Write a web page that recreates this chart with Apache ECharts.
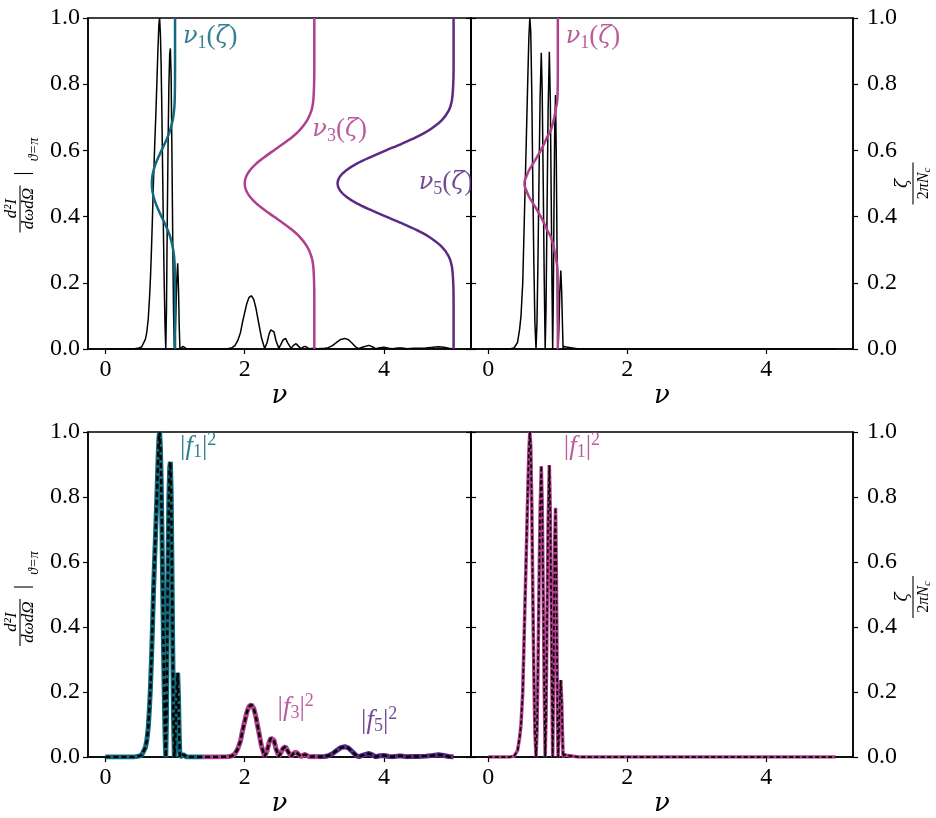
<!DOCTYPE html>
<html>
<head>
<meta charset="utf-8">
<script src="https://cdn.jsdelivr.net/npm/echarts@6/dist/echarts.min.js"></script>
<style>
  html, body { margin: 0; padding: 0; background: #fff; }
  #chart { width: 936px; height: 818px; }
</style>
</head>
<body>
<div id="chart"></div>
<script>
// ---------------- data ----------------
const nuTicks = [0, 2, 4];
const yTicks = [0, 0.2, 0.4, 0.6, 0.8, 1.0];

// broad-band spectrum, first-harmonic lobe group (left panels)
const h1Nu = [0, 0.40, 0.48, 0.52, 0.548, 0.575, 0.595, 0.615, 0.633, 0.648, 0.662, 0.676, 0.69, 0.707, 0.724, 0.74, 0.755, 0.768, 0.778, 0.79, 0.80, 0.812, 0.824, 0.835, 0.845, 0.856, 0.867,
  0.877, 0.889, 0.90, 0.912, 0.923, 0.933, 0.944, 0.955, 0.966, 0.978, 0.99,
  1.0, 1.012, 1.025, 1.038, 1.05, 1.06, 1.07, 1.09, 1.115, 1.14, 1.17, 1.4];
const h1I = [0, 0, 0.003, 0.006, 0.012, 0.03, 0.052, 0.09, 0.153, 0.22, 0.304, 0.40, 0.505, 0.61, 0.707, 0.81, 0.91, 0.98, 1.0, 0.95, 0.86, 0.70, 0.50, 0.33, 0.19, 0.07, 0.0,
  0.12, 0.40, 0.62, 0.80, 0.89, 0.908, 0.82, 0.60, 0.35, 0.12, 0.0,
  0.03, 0.11, 0.21, 0.259, 0.18, 0.07, 0.0, 0.004, 0.008, 0.004, 0.0, 0.0];

// third-harmonic lobe group
const h3Nu = [1.4, 1.75, 1.81, 1.86, 1.9, 1.94, 1.97, 2.0, 2.03, 2.06, 2.095, 2.13, 2.16, 2.2, 2.24, 2.286,
  2.32, 2.35, 2.375, 2.395, 2.42, 2.45, 2.49, 2.52, 2.55, 2.586, 2.62, 2.667, 2.70, 2.738, 2.775, 2.81,
  2.84, 2.87, 2.90, 2.93, 3.0, 3.05];
const h3I = [0, 0.001, 0.003, 0.01, 0.025, 0.05, 0.082, 0.11, 0.137, 0.155, 0.161, 0.15, 0.125, 0.08, 0.035, 0.002,
  0.018, 0.045, 0.058, 0.062, 0.052, 0.025, 0.002, 0.014, 0.027, 0.032, 0.018, 0.002, 0.011, 0.016, 0.008, 0.001,
  0.006, 0.008, 0.004, 0.001, 0.002, 0.001];

// fifth-harmonic lobe group
const h5Nu = [3.05, 3.15, 3.2, 3.26, 3.32, 3.38, 3.438, 3.49, 3.54, 3.59, 3.633, 3.7, 3.786, 3.84, 3.88, 3.94, 4.0,
  4.07, 4.12, 4.2, 4.26, 4.33, 4.42, 4.5, 4.6, 4.7, 4.786, 4.86, 4.93, 5.0];
const h5I = [0.001, 0.002, 0.004, 0.01, 0.02, 0.029, 0.032, 0.028, 0.018, 0.007, 0.001, 0.006, 0.011, 0.006, 0.001, 0.004, 0.005,
  0.002, 0.001, 0.003, 0.003, 0.001, 0.002, 0.002, 0.003, 0.005, 0.007, 0.005, 0.002, 0.0];

// narrow-band spectrum (right panels)
const nbNu = [0, 0.30, 0.37, 0.42, 0.45, 0.47, 0.495, 0.52, 0.545, 0.567, 0.583, 0.597, 0.61, 0.625, 0.64, 0.655, 0.67, 0.686,
  0.70, 0.715, 0.73, 0.745, 0.762, 0.775, 0.79, 0.805, 0.818,
  0.83, 0.845, 0.86, 0.878, 0.892, 0.905, 0.916, 0.926,
  0.935, 0.945, 0.955, 0.967, 0.977, 0.988, 0.996, 1.004,
  1.015, 1.028, 1.043, 1.056, 1.066, 1.076, 1.09, 1.105, 1.12, 1.135, 1.3, 5.0];
const nbI = [0, 0, 0.003, 0.02, 0.06, 0.10, 0.20, 0.41, 0.62, 0.81, 0.94, 1.0, 0.96, 0.78, 0.50, 0.26, 0.08, 0,
  0.08, 0.28, 0.53, 0.76, 0.895, 0.78, 0.50, 0.20, 0,
  0.12, 0.42, 0.72, 0.898, 0.75, 0.46, 0.20, 0,
  0.15, 0.43, 0.66, 0.767, 0.60, 0.32, 0.10, 0,
  0.06, 0.17, 0.237, 0.17, 0.08, 0, 0.008, 0.012, 0.006, 0, 0, 0];

// local resonant frequency along the undulator, zeta / (2 pi N_c)
const zeta = [0, 0.15, 0.2, 0.25, 0.28, 0.31, 0.34, 0.36, 0.38, 0.40, 0.42, 0.44, 0.46, 0.48, 0.50,
  0.52, 0.54, 0.56, 0.58, 0.60, 0.62, 0.64, 0.66, 0.69, 0.72, 0.75, 0.80, 0.85, 1.0];
const nu1Broad = [1.0, 1.0, 0.999, 0.995, 0.986, 0.965, 0.928, 0.893, 0.851, 0.806, 0.762, 0.722, 0.692, 0.673, 0.667,
  0.673, 0.692, 0.722, 0.762, 0.806, 0.851, 0.893, 0.928, 0.965, 0.986, 0.995, 0.999, 1.0, 1.0];
const nu3Broad = [3.0, 3.0, 2.997, 2.985, 2.958, 2.895, 2.784, 2.679, 2.553, 2.418, 2.286, 2.166, 2.076, 2.019, 2.0,
  2.019, 2.076, 2.166, 2.286, 2.418, 2.553, 2.679, 2.784, 2.895, 2.958, 2.985, 2.997, 3.0, 3.0];
const nu5Broad = [5.0, 5.0, 4.995, 4.975, 4.93, 4.825, 4.64, 4.465, 4.255, 4.03, 3.81, 3.61, 3.46, 3.365, 3.333,
  3.365, 3.46, 3.61, 3.81, 4.03, 4.255, 4.465, 4.64, 4.825, 4.93, 4.975, 4.995, 5.0, 5.0];
const zetaNarrow = [0, 0.15, 0.2, 0.25, 0.28, 0.31, 0.34, 0.36, 0.38, 0.40, 0.42, 0.44, 0.46, 0.48, 0.49, 0.50,
  0.51, 0.52, 0.54, 0.56, 0.58, 0.60, 0.62, 0.64, 0.66, 0.69, 0.72, 0.75, 0.80, 0.85, 1.0];
const nu1Narrow = [1.0, 1.0, 0.999, 0.992, 0.967, 0.939, 0.897, 0.845, 0.803, 0.755, 0.70, 0.643, 0.585, 0.545, 0.526, 0.52,
  0.526, 0.545, 0.585, 0.643, 0.70, 0.755, 0.803, 0.845, 0.897, 0.939, 0.967, 0.992, 0.999, 1.0, 1.0];

// ---------------- styling ----------------
const FONT = "'Liberation Serif', 'DejaVu Serif', serif";
const GREEK = "'DejaVu Serif', 'Liberation Serif', serif";
const TEAL = '#0f6b7c';
const MAGENTA = '#b03f8c';
const PURPLE = '#5b2a84';

const pairs = (xs, ys) => xs.map((x, i) => [x, ys[i]]);
const broadTotalNu = h1Nu.concat(h3Nu, h5Nu);
const broadTotalI = h1I.concat(h3I, h5I);

const panels = [
  { left: 88, top: 18, width: 383, height: 331 },
  { left: 471, top: 18, width: 382, height: 331 },
  { left: 88, top: 432, width: 383, height: 330 },
  { left: 471, top: 432, width: 382, height: 330 }
];

const grid = panels.map(p => Object.assign({ show: true, borderColor: '#000', borderWidth: 1.5, backgroundColor: 'transparent' }, p));

const xAxis = panels.map((p, i) => ({
  gridIndex: i, type: 'value', min: -0.25, max: 5.25,
  name: 'ν', nameLocation: 'middle', nameGap: 20,
  nameTextStyle: { fontFamily: GREEK, fontStyle: 'italic', fontSize: 26, color: '#000' },
  axisLine: { show: true, onZero: false, lineStyle: { color: '#000', width: 1.5 } },
  axisTick: { show: true, inside: false, length: 5, customValues: nuTicks, lineStyle: { color: '#000', width: 1.2 } },
  axisLabel: { show: true, customValues: nuTicks, fontFamily: FONT, fontSize: 24, color: '#000', margin: 9 },
  splitLine: { show: false }
}));

const yAxis = [];
panels.forEach((p, i) => {
  const rightPanel = i % 2 === 1;
  const base = {
    gridIndex: i, type: 'value', min: 0, max: 1, interval: 0.2,
    axisLine: { show: true, onZero: false, lineStyle: { color: '#000', width: 1.5 } },
    axisTick: { show: true, inside: false, length: 5, lineStyle: { color: '#000', width: 1.2 } },
    splitLine: { show: false }
  };
  yAxis.push(Object.assign({}, base, {
    position: 'left',
    axisLabel: { show: !rightPanel, customValues: yTicks, fontFamily: FONT, fontSize: 24, color: '#000', margin: 8,
      formatter: v => v.toFixed(1) }
  }));
  yAxis.push(Object.assign({}, base, {
    position: 'right',
    axisLabel: { show: rightPanel, customValues: yTicks, fontFamily: FONT, fontSize: 24, color: '#000', margin: 14,
      formatter: v => v.toFixed(1) }
  }));
});

function line(panel, yRight, data, color, width, extra) {
  return Object.assign({
    type: 'line', xAxisIndex: panel, yAxisIndex: 2 * panel + (yRight ? 1 : 0),
    data: data, showSymbol: false, symbol: 'none', animation: false, silent: true,
    lineStyle: { color: color, width: width }
  }, extra || {});
}

// math-style rich text for the curve labels
function richFor(color) {
  return {
    g: { fontFamily: GREEK, fontStyle: 'italic', fontSize: 24, lineHeight: 30, fill: color },
    m: { fontFamily: FONT, fontStyle: 'italic', fontSize: 27, lineHeight: 30, fill: color },
    r: { fontFamily: FONT, fontSize: 27, lineHeight: 30, fill: color },
    s: { fontFamily: FONT, fontSize: 18, lineHeight: 14, verticalAlign: 'bottom', fill: color },
    p: { fontFamily: FONT, fontSize: 18, lineHeight: 14, verticalAlign: 'top', fill: color }
  };
}

// labels are clipped to their panel, like the text drawn inside the axes
function labelSeries(panel, items) {
  return {
    type: 'custom', xAxisIndex: panel, yAxisIndex: 2 * panel, clip: true, silent: true, animation: false, z: 20,
    data: items.map(it => [it.at[0], it.at[1]]),
    renderItem: (params, api) => {
      const it = items[params.dataIndex];
      const pt = api.coord([api.value(0), api.value(1)]);
      return {
        type: 'text', x: pt[0], y: pt[1],
        style: { text: it.text, rich: richFor(it.color), fill: it.color, opacity: 0.85,
          align: 'left', verticalAlign: 'middle', font: '27px ' + FONT }
      };
    }
  };
}

const NU = n => '{g|ν}{s|' + n + '}{r|(}{g|ζ}{r|)}';
const F2 = n => '{r||}{m|f}{s|' + n + '}{r||}{p|2}';

const series = [
  // broad-band spectrum with resonance curves
  line(0, false, pairs(broadTotalNu, broadTotalI), '#000', 1.5),
  line(0, true, pairs(nu1Broad, zeta), TEAL, 2.5, { smooth: 0.3 }),
  line(0, true, pairs(nu3Broad, zeta), MAGENTA, 2.5, { smooth: 0.3 }),
  line(0, true, pairs(nu5Broad, zeta), PURPLE, 2.5, { smooth: 0.3 }),
  labelSeries(0, [
    { at: [1.114, 0.943], text: NU(1), color: TEAL },
    { at: [2.971, 0.662], text: NU(3), color: MAGENTA },
    { at: [4.50, 0.502], text: NU(5), color: PURPLE }
  ]),
  // narrow-band spectrum with resonance curve
  line(1, false, pairs(nbNu, nbI), '#000', 1.5),
  line(1, true, pairs(nu1Narrow, zetaNarrow), MAGENTA, 2.5, { smooth: 0.3 }),
  labelSeries(1, [{ at: [1.114, 0.943], text: NU(1), color: MAGENTA }]),
  // harmonic decomposition, broad band
  line(2, false, pairs(h1Nu, h1I), TEAL, 5),
  line(2, false, pairs(h3Nu, h3I), MAGENTA, 5),
  line(2, false, pairs(h5Nu, h5I), PURPLE, 5),
  line(2, false, pairs(broadTotalNu, broadTotalI), '#000', 2.5, { lineStyle: { color: '#000', width: 2.5, type: [5, 3] } }),
  labelSeries(2, [
    { at: [1.071, 0.955], text: F2(1), color: TEAL },
    { at: [2.471, 0.152], text: F2(3), color: MAGENTA },
    { at: [3.671, 0.112], text: F2(5), color: PURPLE }
  ]),
  // harmonic decomposition, narrow band
  line(3, false, pairs(nbNu, nbI), MAGENTA, 3.5),
  line(3, false, pairs(nbNu, nbI), '#000', 1.6, { lineStyle: { color: '#000', width: 1.6, type: [4, 2.5] } }),
  labelSeries(3, [{ at: [1.086, 0.955], text: F2(1), color: MAGENTA }])
];

// rotated fraction axis titles
function txt(x, y, text, size, italic, family) {
  return {
    type: 'text', x: x, y: y, silent: true,
    style: { text: text, fontFamily: family || FONT, fontSize: size, fontStyle: italic ? 'italic' : 'normal', fill: '#000',
      align: 'center', verticalAlign: 'middle', textAlign: 'center', textVerticalAlign: 'middle' }
  };
}
function seg(x1, y1, x2, y2) {
  return { type: 'line', silent: true, shape: { x1: x1, y1: y1, x2: x2, y2: y2 }, style: { stroke: '#000', lineWidth: 1.1 } };
}
function intensityTitle(cy) {
  return {
    type: 'group', x: 20, y: cy, rotation: Math.PI / 2,
    children: [
      txt(-25, -8, 'd²I', 17, true),
      seg(-49, 0, -2, 0),
      txt(-25, 9, 'dωdΩ', 17, true),
      seg(10, -6, 10, 13),
      txt(34, 14, 'ϑ=π', 14, true)
    ]
  };
}
function zetaTitle(cy) {
  return {
    type: 'group', x: 913, y: cy, rotation: Math.PI / 2,
    children: [
      txt(0, -10, 'ζ', 17, true, GREEK),
      seg(-21, 0, 21, 0),
      {
        type: 'text', x: 0, y: 11, silent: true,
        style: {
          text: '{a|2}{b|πN}{c|c}', align: 'center', verticalAlign: 'middle', fill: '#000',
          rich: {
            a: { fontFamily: FONT, fontSize: 16, lineHeight: 18 },
            b: { fontFamily: FONT, fontSize: 16, fontStyle: 'italic', lineHeight: 18 },
            c: { fontFamily: FONT, fontSize: 11, fontStyle: 'italic', lineHeight: 8, verticalAlign: 'bottom' }
          }
        }
      }
    ]
  };
}

const chart = echarts.init(document.getElementById('chart'), null, { renderer: 'canvas' });
chart.setOption({
  backgroundColor: '#fff',
  animation: false,
  grid: grid,
  xAxis: xAxis,
  yAxis: yAxis,
  series: series,
  graphic: [intensityTitle(183.5), intensityTitle(597), zetaTitle(183.5), zetaTitle(597)]
});
</script>
</body>
</html>
